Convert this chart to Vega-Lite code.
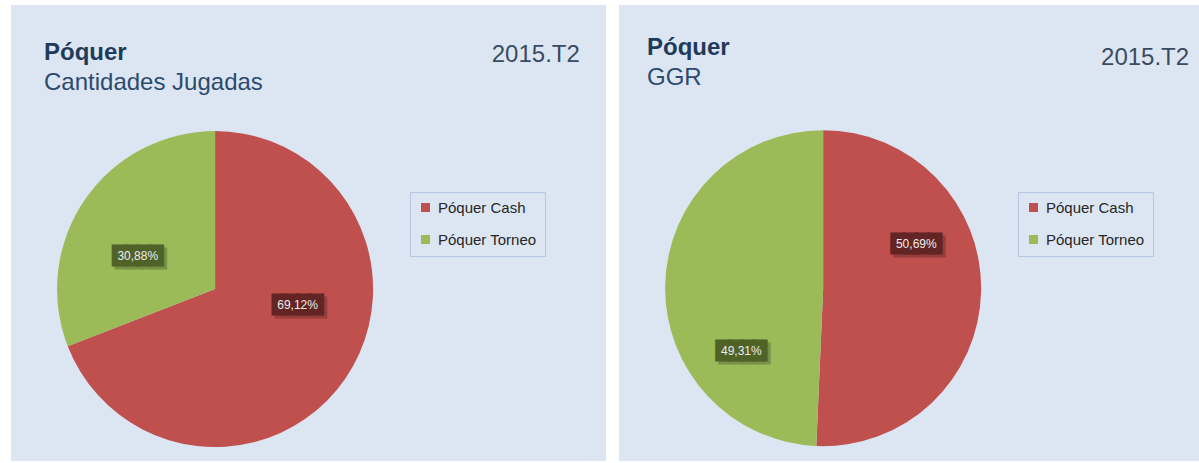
{
  "$schema": "https://vega.github.io/schema/vega-lite/v6.json",
  "padding": {"left": 11, "top": 5, "right": 0, "bottom": 0},
  "background": "white",
  "config": {
    "locale": {"number": {"decimal": ",", "thousands": ".", "grouping": [3], "currency": ["", " €"]}},
    "view": {"fill": "#dce6f2", "stroke": null},
    "font": "Liberation Sans"
  },
  "datasets": {
    "cantidades": [
      {"categoria": "Póquer Cash", "cuota": 0.6912},
      {"categoria": "Póquer Torneo", "cuota": 0.3088}
    ],
    "ggr": [
      {"categoria": "Póquer Cash", "cuota": 0.5069},
      {"categoria": "Póquer Torneo", "cuota": 0.4931}
    ],
    "periodo": [{"periodo": "2015.T2"}]
  },
  "spacing": 13,
  "resolve": {"scale": {"color": "independent", "x": "independent", "y": "independent", "theta": "independent", "stroke": "independent", "fill": "independent"}, "legend": {"color": "independent"}},
  "hconcat": [
    {
      "width": 595,
      "height": 456,
      "title": {"text": "Póquer", "subtitle": "Cantidades Jugadas", "anchor": "start", "frame": "group", "orient": "top", "offset": -90, "dx": 33, "font": "Liberation Sans", "fontSize": 24, "fontWeight": "bold", "color": "#1f3b5c", "subtitleFont": "Liberation Sans", "subtitleFontSize": 24, "subtitleColor": "#2c4a6e", "subtitlePadding": 6},
      "resolve": {"scale": {"theta": "independent"}},
      "layer": [
        {
          "data": {"name": "cantidades"},
          "mark": {"type": "arc", "radius": 158, "stroke": null},
          "encoding": {
            "x": {"datum": 0.343, "type": "quantitative", "scale": {"domain": [0, 1]}, "axis": null},
            "y": {"datum": 0.377, "type": "quantitative", "scale": {"domain": [0, 1]}, "axis": null},
            "theta": {"field": "cuota", "type": "quantitative", "stack": true},
            "order": {"field": "categoria", "type": "nominal", "sort": "ascending"},
            "color": {"field": "categoria", "type": "nominal", "scale": {"domain": ["Póquer Cash", "Póquer Torneo"], "range": ["#c0504d", "#9bbb59"]},
              "legend": {"orient": "none", "legendX": 399, "legendY": 187, "title": null, "fillColor": "#dce6f2", "strokeColor": "#b4c7e0", "padding": 8, "rowPadding": 16, "symbolType": "square", "symbolSize": 81, "symbolStrokeWidth": 0, "labelFontSize": 15, "labelFont": "Liberation Sans", "labelColor": "#262626", "labelOffset": 5}}
          }
        },
        {
          "data": {"name": "cantidades"},
          "mark": {"type": "text", "text": "████", "radius": 84, "dx": 3, "dy": 3, "fontSize": 16, "font": "DejaVu Sans", "strokeWidth": 3, "strokeJoin": "miter", "fill": "#000000", "stroke": "#000000", "opacity": 0.22},
          "encoding": {
            "x": {"datum": 0.343, "type": "quantitative", "scale": {"domain": [0, 1]}, "axis": null},
            "y": {"datum": 0.377, "type": "quantitative", "scale": {"domain": [0, 1]}, "axis": null},
            "theta": {"field": "cuota", "type": "quantitative", "stack": true, "scale": {"range": [-0.5594, 6.1497]}},
            "order": {"field": "categoria", "type": "nominal", "sort": "ascending"},
            "detail": {"field": "categoria", "type": "nominal"}
          }
        },
        {
          "data": {"name": "cantidades"},
          "mark": {"type": "text", "text": "████", "radius": 84, "fontSize": 16, "font": "DejaVu Sans", "strokeWidth": 3, "strokeJoin": "miter"},
          "encoding": {
            "x": {"datum": 0.343, "type": "quantitative", "scale": {"domain": [0, 1]}, "axis": null},
            "y": {"datum": 0.377, "type": "quantitative", "scale": {"domain": [0, 1]}, "axis": null},
            "theta": {"field": "cuota", "type": "quantitative", "stack": true, "scale": {"range": [-0.5594, 6.1497]}},
            "order": {"field": "categoria", "type": "nominal", "sort": "ascending"},
            "fill": {"field": "categoria", "type": "nominal", "scale": {"domain": ["Póquer Cash", "Póquer Torneo"], "range": ["#632523", "#4f6228"]}, "legend": null},
            "stroke": {"field": "categoria", "type": "nominal", "scale": {"domain": ["Póquer Cash", "Póquer Torneo"], "range": ["#632523", "#4f6228"]}, "legend": null}
          }
        },
        {
          "data": {"name": "cantidades"},
          "mark": {"type": "text", "radius": 84, "fontSize": 12, "font": "Liberation Sans", "fill": "#ececec"},
          "encoding": {
            "x": {"datum": 0.343, "type": "quantitative", "scale": {"domain": [0, 1]}, "axis": null},
            "y": {"datum": 0.377, "type": "quantitative", "scale": {"domain": [0, 1]}, "axis": null},
            "theta": {"field": "cuota", "type": "quantitative", "stack": true, "scale": {"range": [-0.5594, 6.1497]}},
            "order": {"field": "categoria", "type": "nominal", "sort": "ascending"},
            "detail": {"field": "categoria", "type": "nominal"},
            "text": {"field": "cuota", "type": "quantitative", "format": ".2%"}
          }
        },
        {
          "data": {"name": "periodo"},
          "mark": {"type": "text", "align": "right", "baseline": "alphabetic", "font": "Liberation Sans", "fontSize": 24, "fill": "#394b61"},
          "encoding": {
            "x": {"datum": 0.956, "type": "quantitative", "scale": {"domain": [0, 1]}, "axis": null},
            "y": {"datum": 0.875, "type": "quantitative", "scale": {"domain": [0, 1]}, "axis": null},
            "text": {"field": "periodo", "type": "nominal"}
          }
        }
      ]
    },
    {
      "width": 580,
      "height": 456,
      "title": {"text": "Póquer", "subtitle": "GGR", "anchor": "start", "frame": "group", "orient": "top", "offset": -85, "dx": 28, "font": "Liberation Sans", "fontSize": 24, "fontWeight": "bold", "color": "#1f3b5c", "subtitleFont": "Liberation Sans", "subtitleFontSize": 24, "subtitleColor": "#2c4a6e", "subtitlePadding": 6},
      "resolve": {"scale": {"theta": "independent"}},
      "layer": [
        {
          "data": {"name": "ggr"},
          "mark": {"type": "arc", "radius": 158, "stroke": null},
          "encoding": {
            "x": {"datum": 0.352, "type": "quantitative", "scale": {"domain": [0, 1]}, "axis": null},
            "y": {"datum": 0.379, "type": "quantitative", "scale": {"domain": [0, 1]}, "axis": null},
            "theta": {"field": "cuota", "type": "quantitative", "stack": true},
            "order": {"field": "categoria", "type": "nominal", "sort": "ascending"},
            "color": {"field": "categoria", "type": "nominal", "scale": {"domain": ["Póquer Cash", "Póquer Torneo"], "range": ["#c0504d", "#9bbb59"]},
              "legend": {"orient": "none", "legendX": 399, "legendY": 187, "title": null, "fillColor": "#dce6f2", "strokeColor": "#b4c7e0", "padding": 8, "rowPadding": 16, "symbolType": "square", "symbolSize": 81, "symbolStrokeWidth": 0, "labelFontSize": 15, "labelFont": "Liberation Sans", "labelColor": "#262626", "labelOffset": 5}}
          }
        },
        {
          "data": {"name": "ggr"},
          "mark": {"type": "text", "text": "████", "radius": 103, "dx": 3, "dy": 3, "fontSize": 16, "font": "DejaVu Sans", "strokeWidth": 3, "strokeJoin": "miter", "fill": "#000000", "stroke": "#000000", "opacity": 0.22},
          "encoding": {
            "x": {"datum": 0.352, "type": "quantitative", "scale": {"domain": [0, 1]}, "axis": null},
            "y": {"datum": 0.379, "type": "quantitative", "scale": {"domain": [0, 1]}, "axis": null},
            "theta": {"field": "cuota", "type": "quantitative", "stack": true, "scale": {"range": [-0.356, 5.505]}},
            "order": {"field": "categoria", "type": "nominal", "sort": "ascending"},
            "detail": {"field": "categoria", "type": "nominal"}
          }
        },
        {
          "data": {"name": "ggr"},
          "mark": {"type": "text", "text": "████", "radius": 103, "fontSize": 16, "font": "DejaVu Sans", "strokeWidth": 3, "strokeJoin": "miter"},
          "encoding": {
            "x": {"datum": 0.352, "type": "quantitative", "scale": {"domain": [0, 1]}, "axis": null},
            "y": {"datum": 0.379, "type": "quantitative", "scale": {"domain": [0, 1]}, "axis": null},
            "theta": {"field": "cuota", "type": "quantitative", "stack": true, "scale": {"range": [-0.356, 5.505]}},
            "order": {"field": "categoria", "type": "nominal", "sort": "ascending"},
            "fill": {"field": "categoria", "type": "nominal", "scale": {"domain": ["Póquer Cash", "Póquer Torneo"], "range": ["#632523", "#4f6228"]}, "legend": null},
            "stroke": {"field": "categoria", "type": "nominal", "scale": {"domain": ["Póquer Cash", "Póquer Torneo"], "range": ["#632523", "#4f6228"]}, "legend": null}
          }
        },
        {
          "data": {"name": "ggr"},
          "mark": {"type": "text", "radius": 103, "fontSize": 12, "font": "Liberation Sans", "fill": "#ececec"},
          "encoding": {
            "x": {"datum": 0.352, "type": "quantitative", "scale": {"domain": [0, 1]}, "axis": null},
            "y": {"datum": 0.379, "type": "quantitative", "scale": {"domain": [0, 1]}, "axis": null},
            "theta": {"field": "cuota", "type": "quantitative", "stack": true, "scale": {"range": [-0.356, 5.505]}},
            "order": {"field": "categoria", "type": "nominal", "sort": "ascending"},
            "detail": {"field": "categoria", "type": "nominal"},
            "text": {"field": "cuota", "type": "quantitative", "format": ".2%"}
          }
        },
        {
          "data": {"name": "periodo"},
          "mark": {"type": "text", "align": "right", "baseline": "alphabetic", "font": "Liberation Sans", "fontSize": 24, "fill": "#394b61"},
          "encoding": {
            "x": {"datum": 0.983, "type": "quantitative", "scale": {"domain": [0, 1]}, "axis": null},
            "y": {"datum": 0.868, "type": "quantitative", "scale": {"domain": [0, 1]}, "axis": null},
            "text": {"field": "periodo", "type": "nominal"}
          }
        }
      ]
    }
  ]
}
